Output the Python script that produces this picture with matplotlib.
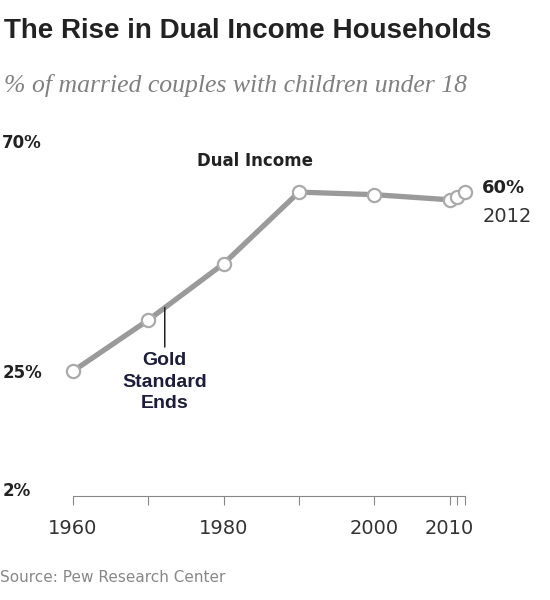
import matplotlib
matplotlib.use("agg")
import matplotlib.pyplot as plt

# data
years = [1960, 1970, 1980, 1990, 2000, 2010, 2011, 2012]
dual_income = [25, 35, 46, 60, 59.5, 58.5, 59, 60]
ytick_vals = [2, 25, 70]
ytick_labels = ["2%", "25%", "70%"]
xtick_vals = [1960, 1970, 1980, 1990, 2000, 2010, 2011, 2012]
xtick_labels = ["1960", "", "1980", "", "2000", "2010", "", ""]

title = "The Rise in Dual Income Households"
subtitle = "% of married couples with children under 18"
source = "Source: Pew Research Center"

fig = plt.figure(figsize=(5.5, 6), dpi=100)
ax = fig.add_axes([0.1049, 0.173, 0.7676, 0.6092])

ax.plot(years, dual_income, color="#9a9a9a", lw=3.8, zorder=2, solid_capstyle="butt")
ax.plot(years, dual_income, ls="none", marker="o", ms=9.5, mfc="white",
        mec="#aaaaaa", mew=1.6, zorder=3)

ax.set_xlim(1958, 2014)
ax.set_ylim(0.6, 72)

for s in ["top", "right", "left"]:
    ax.spines[s].set_visible(False)
ax.spines["bottom"].set_color("#888888")
ax.spines["bottom"].set_bounds(1960, 2012)

ax.set_xticks(xtick_vals)
ax.set_xticklabels(xtick_labels, fontsize=14, color="#333333", family="DejaVu Sans")
ax.tick_params(axis="x", direction="out", length=6.5, color="#888888", pad=10)

ax.set_yticks(ytick_vals)
ax.set_yticklabels(ytick_labels, fontsize=12, fontweight="bold", color="#222222",
                   family="DejaVu Sans")
ax.tick_params(axis="y", length=0, pad=40)
for lab in ax.get_yticklabels():
    lab.set_horizontalalignment("left")

# annotations
ax.text(1984.2, 66, "Dual Income", fontsize=12, fontweight="bold", color="#222222",
        ha="center", va="center", family="DejaVu Sans", clip_on=False)
ax.text(2014.3, 60.8, "60%", fontsize=13, fontweight="bold", color="#222222",
        ha="left", va="center", family="DejaVu Sans", clip_on=False)
ax.text(2014.3, 55.2, "2012", fontsize=14, color="#333333",
        ha="left", va="center", family="DejaVu Sans", clip_on=False)
ax.annotate("", xy=(1972.2, 38.0), xytext=(1972.2, 29.2),
            arrowprops=dict(arrowstyle="-", color="#222222", lw=1.1))
ax.text(1972.2, 22.9, "Gold\nStandard\nEnds", fontsize=14, fontweight="bold",
        color="#1c1c3c", ha="center", va="center", linespacing=1.35,
        family=["Liberation Sans Narrow", "Liberation Sans", "DejaVu Sans"])

fig.text(0.008, 0.948, title, fontsize=20, fontweight="bold", color="#222222",
         ha="left", va="center",
         family=["Liberation Sans Narrow", "Liberation Sans", "DejaVu Sans"])
fig.text(0.008, 0.858, subtitle, fontsize=18.5, style="italic", color="#808080",
         ha="left", va="center", family=["Liberation Serif", "DejaVu Serif"])
fig.text(0.0, 0.038, source, fontsize=11, color="#888888", ha="left", va="center",
         family="DejaVu Sans")

fig.savefig("out.png", dpi=100)
